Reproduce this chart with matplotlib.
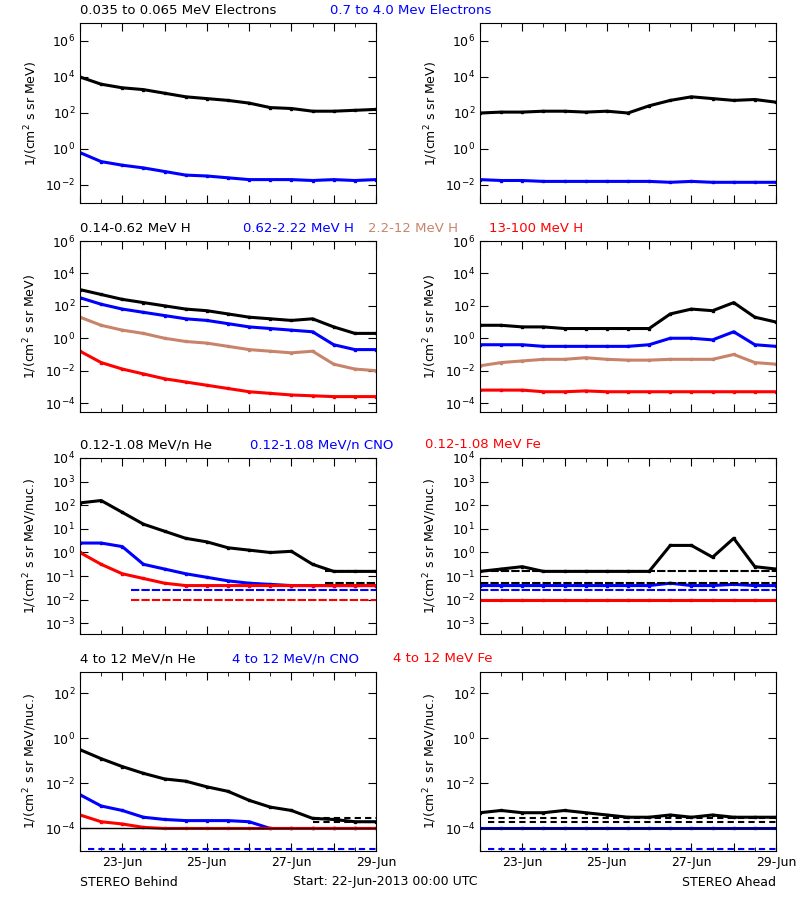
import numpy as np
import matplotlib
matplotlib.use("Agg")
import matplotlib.pyplot as plt

# sample times: days since 22-Jun-2013 00:00, every 12 h
DAYS = [0, 0.5, 1, 1.5, 2, 2.5, 3, 3.5, 4, 4.5, 5, 5.5, 6, 6.5, 7]

# values stored as log10 of flux
BEH_E_LO = [4.0, 3.6, 3.4, 3.3, 3.1, 2.9, 2.8, 2.7, 2.55, 2.3, 2.25, 2.1, 2.1, 2.15, 2.2]
BEH_E_HI = [-0.2, -0.7, -0.9, -1.05, -1.25, -1.45, -1.5, -1.6, -1.7, -1.7, -1.7, -1.75, -1.7, -1.75, -1.7]
AHD_E_LO = [2.0, 2.05, 2.05, 2.1, 2.1, 2.05, 2.1, 2.0, 2.4, 2.7, 2.9, 2.8, 2.7, 2.75, 2.6]
AHD_E_HI = [-1.7, -1.75, -1.75, -1.8, -1.8, -1.8, -1.8, -1.8, -1.8, -1.85, -1.8, -1.85, -1.85, -1.85, -1.85]

BEH_H1 = [3.0, 2.7, 2.4, 2.2, 2.0, 1.8, 1.7, 1.5, 1.3, 1.2, 1.1, 1.2, 0.7, 0.3, 0.3]
BEH_H2 = [2.5, 2.1, 1.8, 1.6, 1.4, 1.2, 1.1, 0.9, 0.7, 0.6, 0.5, 0.4, -0.4, -0.7, -0.7]
BEH_H3 = [1.3, 0.8, 0.5, 0.3, 0.0, -0.2, -0.3, -0.5, -0.7, -0.8, -0.9, -0.8, -1.6, -1.9, -2.0]
BEH_H4 = [-0.8, -1.5, -1.9, -2.2, -2.5, -2.7, -2.9, -3.1, -3.3, -3.4, -3.5, -3.55, -3.6, -3.6, -3.6]
AHD_H1 = [0.8, 0.8, 0.7, 0.7, 0.6, 0.6, 0.6, 0.6, 0.6, 1.5, 1.8, 1.7, 2.2, 1.3, 1.0]
AHD_H2 = [-0.4, -0.4, -0.4, -0.5, -0.5, -0.5, -0.5, -0.5, -0.4, 0.0, 0.0, -0.1, 0.4, -0.4, -0.5]
AHD_H3 = [-1.7, -1.5, -1.4, -1.3, -1.3, -1.2, -1.3, -1.35, -1.35, -1.3, -1.3, -1.3, -1.0, -1.5, -1.6]
AHD_H4 = [-3.2, -3.2, -3.2, -3.3, -3.3, -3.25, -3.3, -3.3, -3.3, -3.3, -3.3, -3.3, -3.3, -3.3, -3.3]

BEH_HE = [2.1, 2.2, 1.7, 1.2, 0.9, 0.6, 0.45, 0.2, 0.1, 0.0, 0.05, -0.5, -0.8, -0.8, -0.8]
BEH_CNO = [0.4, 0.4, 0.25, -0.5, -0.7, -0.9, -1.05, -1.2, -1.3, -1.35, -1.4, -1.4, -1.4, -1.4, -1.4]
BEH_FE = [0.0, -0.5, -0.9, -1.1, -1.3, -1.4, -1.4, -1.4, -1.4, -1.4, -1.4, -1.4, -1.4, -1.4, -1.4]
AHD_HE = [-0.8, -0.7, -0.6, -0.8, -0.8, -0.8, -0.8, -0.8, -0.8, 0.3, 0.3, -0.2, 0.6, -0.6, -0.7]
AHD_CNO = [-1.4, -1.4, -1.4, -1.4, -1.4, -1.4, -1.4, -1.4, -1.4, -1.3, -1.4, -1.4, -1.35, -1.4, -1.4]
AHD_FE = [-2.0, -2.0, -2.0, -2.0, -2.0, -2.0, -2.0, -2.0, -2.0, -2.0, -2.0, -2.0, -2.0, -2.0, -2.0]

BEH_HE4 = [-0.5, -0.9, -1.25, -1.55, -1.8, -1.9, -2.15, -2.35, -2.75, -3.05, -3.2, -3.55, -3.6, -3.7, -3.7]
BEH_CNO4 = [-2.5, -3.0, -3.2, -3.5, -3.6, -3.65, -3.65, -3.65, -3.7, -4.0, -4.0, -4.0, -4.0, -4.0, -4.0]
BEH_FE4 = [-3.4, -3.7, -3.8, -3.95, -4.0, -4.0, -4.0, -4.0, -4.0, -4.0, -4.0, -4.0, -4.0, -4.0, -4.0]
AHD_HE4 = [-3.3, -3.2, -3.3, -3.3, -3.2, -3.3, -3.4, -3.5, -3.5, -3.4, -3.5, -3.4, -3.5, -3.5, -3.5]
AHD_CNO4 = [-4.0, -4.0, -4.0, -4.0, -4.0, -4.0, -4.0, -4.0, -4.0, -4.0, -4.0, -4.0, -4.0, -4.0, -4.0]

# noise-floor levels (log10) drawn as dashed rows of points
FLOOR_ROW3 = [-0.8, -1.3, -1.6, -2.0]
FLOOR_ROW4 = [-3.55, -3.7, -4.9]

BROWN = "#c8846a"
ROWS = [
    dict(top=23, bot=203, ylim=(-3, 7), ticks=[-2, 0, 2, 4, 6], unit="1/(cm$^2$ s sr MeV)",
         labels=[("0.035 to 0.065 MeV Electrons", "k", 80), ("0.7 to 4.0 Mev Electrons", "blue", 330)],
         beh=[(BEH_E_LO, "k"), (BEH_E_HI, "blue")], ahd=[(AHD_E_LO, "k"), (AHD_E_HI, "blue")]),
    dict(top=241, bot=412, ylim=(-4.55, 6), ticks=[-4, -2, 0, 2, 4, 6], unit="1/(cm$^2$ s sr MeV)",
         labels=[("0.14-0.62 MeV H", "k", 80), ("0.62-2.22 MeV H", "blue", 243),
                 ("2.2-12 MeV H", BROWN, 368), ("13-100 MeV H", "red", 489)],
         beh=[(BEH_H1, "k"), (BEH_H2, "blue"), (BEH_H3, BROWN), (BEH_H4, "red")],
         ahd=[(AHD_H1, "k"), (AHD_H2, "blue"), (AHD_H3, BROWN), (AHD_H4, "red")]),
    dict(top=458, bot=634, ylim=(-3.45, 4), ticks=[-3, -2, -1, 0, 1, 2, 3, 4], unit="1/(cm$^2$ s sr MeV/nuc.)",
         labels=[("0.12-1.08 MeV/n He", "k", 80), ("0.12-1.08 MeV/n CNO", "blue", 250),
                 ("0.12-1.08 MeV Fe", "red", 425)],
         beh=[(BEH_HE, "k"), (BEH_CNO, "blue"), (BEH_FE, "red")],
         ahd=[(AHD_HE, "k"), (AHD_CNO, "blue"), (AHD_FE, "red")]),
    dict(top=672, bot=851, ylim=(-5, 2.95), ticks=[-4, -2, 0, 2], unit="1/(cm$^2$ s sr MeV/nuc.)",
         labels=[("4 to 12 MeV/n He", "k", 80), ("4 to 12 MeV/n CNO", "blue", 232),
                 ("4 to 12 MeV Fe", "red", 393)],
         beh=[(BEH_HE4, "k"), (BEH_CNO4, "blue"), (BEH_FE4, "red")],
         ahd=[(AHD_HE4, "k"), (AHD_CNO4, "blue")]),
]

W, H = 800, 900
fig = plt.figure(figsize=(8, 9), dpi=100)
plt.rcParams["font.family"] = "DejaVu Sans"


def tick_label(e):
    return "$10^{%d}$" % e


for ri, row in enumerate(ROWS):
    for ci, (x0, key) in enumerate([(80, "beh"), (480, "ahd")]):
        ax = fig.add_axes([x0 / W, 1 - row["bot"] / H, 296 / W, (row["bot"] - row["top"]) / H])
        for vals, col in row[key]:
            ax.semilogy(DAYS, 10 ** np.array(vals), color=col, lw=2.2, marker="s", ms=2)
        if ri == 2:
            for lv in FLOOR_ROW3:
                col = "k" if lv > -1.5 else ("red" if lv < -1.8 else "blue")
                start = 5.8 if (lv > -1.5 and ci == 0) else (1.2 if ci == 0 else 0)
                ax.hlines(10 ** lv, start, 7, color=col, lw=1.5, linestyles=(0, (4, 1)))
        if ri == 3:
            ax.axhline(1e-4, color="k", lw=1)
            for lv in FLOOR_ROW4:
                col = "k" if lv > -3.8 else "blue"
                start = 5.5 if (lv > -3.8 and ci == 0) else 0.2
                ax.hlines(10 ** lv, start, 7, color=col, lw=1.5, linestyles=(0, (3, 2)))
        ax.set_xlim(0, 7)
        ax.set_ylim(10 ** row["ylim"][0], 10 ** row["ylim"][1])
        ax.set_yticks([10.0 ** t for t in row["ticks"]])
        ax.set_yticklabels([tick_label(t) for t in row["ticks"]], fontsize=9)
        ax.yaxis.set_minor_locator(matplotlib.ticker.NullLocator())
        ax.set_xticks(range(8))
        ax.set_xticks([0.5 + i for i in range(7)], minor=True)
        if ri == 3:
            ax.set_xticklabels(["", "23-Jun", "", "25-Jun", "", "27-Jun", "", "29-Jun"], fontsize=9)
        else:
            ax.set_xticklabels([])
        ax.tick_params(direction="in", top=True, right=True, length=6, which="major")
        ax.tick_params(direction="in", top=True, right=True, length=3, which="minor")
        ax.set_ylabel(row["unit"], fontsize=9)
        for sp in ax.spines.values():
            sp.set_linewidth(0.8)
    for text, col, xp in row["labels"]:
        fig.text(xp / W, 1 - (row["top"] - 13) / H, text, color=col, fontsize=9.5, va="center")

fig.text(80 / W, 1 - 882 / H, "STEREO Behind", fontsize=9, va="center")
fig.text(293 / W, 1 - 882 / H, "Start: 22-Jun-2013 00:00 UTC", fontsize=9, va="center")
fig.text(776 / W, 1 - 882 / H, "STEREO Ahead", fontsize=9, va="center", ha="right")

fig.savefig("out.png", dpi=100)
